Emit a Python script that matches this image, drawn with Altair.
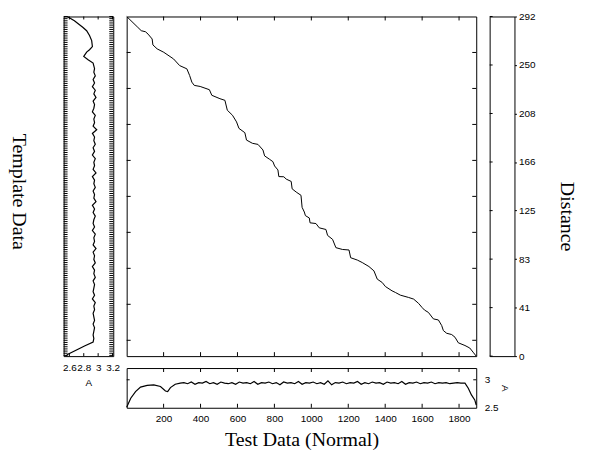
import altair as alt
import pandas as pd

# ---------------- data ----------------
# DTW warping path: (test index, template index)
path_test = [0, 57, 79, 102, 116, 138, 142, 165, 201, 254, 287, 326, 341, 353, 366, 398, 448, 461, 505, 532,
             545, 573, 595, 608, 640, 649, 681, 711, 738, 747, 774, 792, 801, 819, 824, 851, 864, 891, 896, 918,
             944, 950, 962, 968, 989, 993, 1025, 1043, 1079, 1088, 1115, 1133, 1168, 1204, 1213, 1249, 1276, 1312, 1339, 1357,
             1384, 1401, 1437, 1455, 1482, 1527, 1554, 1581, 1599, 1613, 1634, 1661, 1688, 1706, 1715, 1733, 1760, 1778, 1796, 1832,
             1858, 1876, 1893]
path_template = [0, 57, 79, 85, 98, 125, 158, 180, 199, 236, 273, 291, 328, 365, 383, 389, 407, 438, 457, 466,
                 521, 549, 586, 622, 646, 687, 705, 711, 742, 775, 794, 807, 831, 853, 890, 891, 904, 917, 958, 976,
                 994, 1061, 1087, 1107, 1120, 1147, 1151, 1175, 1184, 1217, 1239, 1285, 1295, 1298, 1341, 1354, 1368, 1390, 1414, 1460,
                 1479, 1501, 1525, 1534, 1549, 1562, 1571, 1595, 1617, 1632, 1645, 1681, 1687, 1718, 1746, 1761, 1768, 1783, 1814, 1829,
                 1843, 1866, 1888]

# test signal (bottom panel)
test_x = [0, 22, 48, 75, 111, 147, 183, 210, 222, 237, 263, 290,
          310, 330, 350, 370, 390, 410, 430, 450, 470, 490, 510, 530, 550, 570, 590, 610, 630, 650, 670, 690,
          710, 730, 750, 770, 790, 810, 830, 850, 870, 890, 910, 930, 950, 970, 990, 1010, 1030, 1050, 1070, 1090,
          1110, 1130, 1150, 1170, 1190, 1210, 1230, 1250, 1270, 1290, 1310, 1330, 1350, 1370, 1390, 1410, 1430, 1450,
          1470, 1490, 1510, 1530, 1550, 1570, 1590, 1610, 1630, 1650, 1670, 1690, 1710, 1730, 1750, 1770, 1790, 1810,
          1832, 1850, 1867, 1885, 1893]
test_val = [2.51, 2.67, 2.79, 2.87, 2.90, 2.91, 2.88, 2.80, 2.79, 2.86, 2.92, 2.94,
            2.95, 2.93, 2.96, 2.92, 2.95, 2.94, 2.97, 2.93, 2.95, 2.92,
            2.96, 2.94, 2.93, 2.95, 2.92, 2.96, 2.94, 2.95, 2.93, 2.97,
            2.92, 2.95, 2.94, 2.96, 2.93, 2.95, 2.91, 2.96, 2.94, 2.95,
            2.93, 2.97, 2.92, 2.95, 2.94, 2.96, 2.93, 2.95, 2.92, 2.98,
            2.91, 2.95, 2.94, 2.96, 2.93, 2.95, 2.94, 2.97, 2.92, 2.95,
            2.93, 2.96, 2.94, 2.95, 2.92, 2.96, 2.94, 2.95, 2.93, 2.97,
            2.92, 2.95, 2.94, 2.96, 2.93, 2.95, 2.94, 2.96, 2.93, 2.95,
            2.94, 2.95, 2.93, 2.94, 2.95, 2.94,
            2.94, 2.85, 2.73, 2.64, 2.55]

# template signal (left panel, drawn vertically)
tmpl_t = [0, 24, 61, 79, 106, 134, 167, 185, 198, 222, 240, 259, 290,
          310, 330, 350, 370, 390, 410, 430, 450, 470, 490, 510, 530, 550, 570, 590, 610, 630, 650, 670, 690,
          710, 730, 750, 770, 790, 810, 830, 850, 870, 890, 910, 930, 950, 970, 990, 1010, 1030, 1050, 1070, 1090,
          1110, 1130, 1150, 1170, 1190, 1210, 1230, 1250, 1270, 1290, 1310, 1330, 1350, 1370, 1390, 1410, 1430, 1450,
          1470, 1490, 1510, 1530, 1550, 1570, 1590, 1610, 1630, 1650, 1670, 1690, 1710, 1730, 1750, 1770, 1790,
          1810, 1832, 1850, 1878, 1888]
tmpl_val = [2.57, 2.67, 2.79, 2.84, 2.88, 2.91, 2.92, 2.88, 2.84, 2.80, 2.86, 2.93, 2.95,
            2.94, 2.96, 2.93, 2.95, 2.92, 2.96, 2.94, 2.97, 2.93, 2.95,
            2.94, 2.92, 2.96, 2.94, 2.95, 2.93, 2.98, 2.92, 2.95, 2.94,
            2.96, 2.93, 2.95, 2.92, 2.96, 2.94, 2.95, 2.93, 2.97, 2.92,
            2.95, 2.94, 2.96, 2.93, 2.95, 2.94, 2.97, 2.92, 2.95, 2.93,
            2.96, 2.94, 2.93, 2.95, 2.92, 2.96, 2.94, 2.95, 2.93, 2.97,
            2.93, 2.95, 2.94, 2.96, 2.92, 2.95, 2.94, 2.96, 2.93, 2.95,
            2.94, 2.93, 2.95, 2.92, 2.96, 2.94, 2.95, 2.93, 2.94, 2.95,
            2.93, 2.95, 2.94, 2.93, 2.94,
            2.93, 2.81, 2.72, 2.58, 2.55]

# ticks
index_ticks = [200, 400, 600, 800, 1000, 1200, 1400, 1600, 1800]
amp_ticks_left = [2.6, 2.8, 3.0, 3.2]
amp_ticks_bottom = [2.5, 3.0]
dense_ticks = list(range(0, 1889, 12))
cbar_ticks = [0, 41.7, 83.4, 125.1, 166.9, 208.6, 250.3, 292]

# ---------------- geometry / style ----------------
MAIN_W, MAIN_H = 352, 342
LEFT_W = 50
BOT_H = 40
CB_W = 25
SANS = "Liberation Sans"
SERIF = "Liberation Serif"

xs = alt.Scale(domain=[0, 1893], nice=False, zero=False)
ys = alt.Scale(domain=[0, 1888], nice=False, zero=False, reverse=True)
left_amp = alt.Scale(domain=[2.52, 3.21], nice=False, zero=False)
bot_amp = alt.Scale(domain=[2.5, 3.21], nice=False, zero=False)
cbs = alt.Scale(domain=[0, 292], nice=False, zero=False)

# axes (shared identically by every layer of a panel)
left_x_axis = alt.Axis(
    values=amp_ticks_left, format=".1~f", ticks=False, tickSize=0, labelPadding=6,
    labelOverlap=False, labelFlush=False, title="A", titleFont=SANS, titleFontSize=10,
    titleFontWeight="normal", titleX=25, titleY=27, titleAlign="center", titleBaseline="middle")
left_y_axis = alt.Axis(
    labels=False, ticks=False, domain=False, title="Template Data", titleFont=SERIF,
    titleFontSize=20, titleFontWeight="normal", titleAngle=90, titleX=-45, titleY=176,
    titleAlign="center", titleBaseline="middle")
bot_x_axis = alt.Axis(
    values=index_ticks, format="d", ticks=False, tickSize=0, labelPadding=6, labelFlush=False,
    labelOverlap=False, title="Test Data (Normal)", titleFont=SERIF, titleFontSize=20,
    titleFontWeight="normal", titleX=MAIN_W / 2, titleY=32, titleAlign="center",
    titleBaseline="middle")
bot_y_axis = alt.Axis(
    orient="right", values=amp_ticks_bottom, format=".1~f", ticks=False, tickSize=0,
    labelPadding=8, labelFlush=False, labelOverlap=False, title="A", titleFont=SANS,
    titleFontSize=10, titleFontWeight="normal", titleAngle=90, titleX=28, titleY=20,
    titleAlign="center", titleBaseline="middle")
cb_axis = alt.Axis(
    orient="right", values=cbar_ticks, labelExpr="floor(datum.value)", tickSize=2,
    tickColor="black", labelPadding=2, labelFlush=False, labelOverlap=False,
    title="Distance", titleFont=SERIF, titleFontSize=20, titleFontWeight="normal",
    titleAngle=90, titleX=52, titleY=201, titleAlign="center", titleBaseline="middle")


def hticks(values, scale, axis, h, L):
    d = pd.DataFrame({"v": values})
    top = alt.Chart(d).mark_rule(color="black", strokeWidth=1).encode(
        x=alt.X("v:Q", scale=scale, axis=axis), y=alt.value(0), y2=alt.value(L))
    bot = alt.Chart(d).mark_rule(color="black", strokeWidth=1).encode(
        x=alt.X("v:Q", scale=scale, axis=axis), y=alt.value(h - L), y2=alt.value(h))
    return [top, bot]


def vticks(values, scale, axis, w, L):
    d = pd.DataFrame({"v": values})
    lft = alt.Chart(d).mark_rule(color="black", strokeWidth=1).encode(
        y=alt.Y("v:Q", scale=scale, axis=axis), x=alt.value(0), x2=alt.value(L))
    rgt = alt.Chart(d).mark_rule(color="black", strokeWidth=1).encode(
        y=alt.Y("v:Q", scale=scale, axis=axis), x=alt.value(w - L), x2=alt.value(w))
    return [lft, rgt]


# ---------------- main panel ----------------
df_path = pd.DataFrame({"i": list(range(len(path_test))), "x": path_test, "y": path_template})
path_line = alt.Chart(df_path).mark_line(color="black", strokeWidth=1).encode(
    x=alt.X("x:Q", scale=xs, axis=None),
    y=alt.Y("y:Q", scale=ys, axis=None),
    order="i:Q",
)
main = alt.layer(path_line, *hticks(index_ticks, xs, None, MAIN_H, 4),
                 *vticks(index_ticks, ys, None, MAIN_W, 4)).properties(width=MAIN_W, height=MAIN_H)

# ---------------- left panel (template) ----------------
df_t = pd.DataFrame({"t": tmpl_t, "v": tmpl_val})
left_line = alt.Chart(df_t).mark_line(color="black", strokeWidth=1.2).encode(
    x=alt.X("v:Q", scale=left_amp, axis=left_x_axis),
    y=alt.Y("t:Q", scale=ys, axis=left_y_axis),
    order="t:Q",
)
left = alt.layer(left_line, *hticks(amp_ticks_left, left_amp, left_x_axis, MAIN_H, 3),
                 *vticks(dense_ticks, ys, left_y_axis, LEFT_W, 4)).properties(width=LEFT_W, height=MAIN_H)

# ---------------- colour bar ----------------
df_cb = pd.DataFrame({"v": cbar_ticks})
cb_axis_layer = alt.Chart(df_cb).mark_rule(color="black", strokeWidth=1).encode(
    y=alt.Y("v:Q", scale=cbs, axis=cb_axis),
    x=alt.value(0), x2=alt.value(3),
)
cbar = alt.layer(cb_axis_layer).properties(width=CB_W, height=MAIN_H)

# ---------------- spacer ----------------
spacer = alt.Chart(pd.DataFrame({"a": [0]})).mark_point(opacity=0).encode(
    x=alt.X("a:Q", axis=None), y=alt.Y("a:Q", axis=None)
).properties(width=LEFT_W, height=BOT_H, view=alt.ViewBackground(stroke="transparent"))

# ---------------- bottom panel (test) ----------------
df_s = pd.DataFrame({"x": test_x, "v": test_val})
bot_line = alt.Chart(df_s).mark_line(color="black", strokeWidth=1.2).encode(
    x=alt.X("x:Q", scale=xs, axis=bot_x_axis),
    y=alt.Y("v:Q", scale=bot_amp, axis=bot_y_axis),
    order="x:Q",
)
bottom = alt.layer(bot_line, *hticks(index_ticks, xs, bot_x_axis, BOT_H, 4),
                   *vticks([3.0], bot_amp, bot_y_axis, MAIN_W, 3)).properties(width=MAIN_W, height=BOT_H)

chart = alt.concat(
    left, main, cbar, spacer, bottom,
    columns=3,
    spacing=alt.RowColnumber(row=12, column=13.5),
    bounds="flush",
).properties(
    padding={"left": 0, "top": 1, "right": 4, "bottom": 0}
).configure_view(
    stroke="black", strokeWidth=1
).configure_axis(
    grid=False, domain=False, labelFont=SANS, labelFontSize=10, labelColor="black",
    titleColor="black", tickColor="black"
)

chart.save("out.html", embed_options={"renderer": "svg", "actions": False})
